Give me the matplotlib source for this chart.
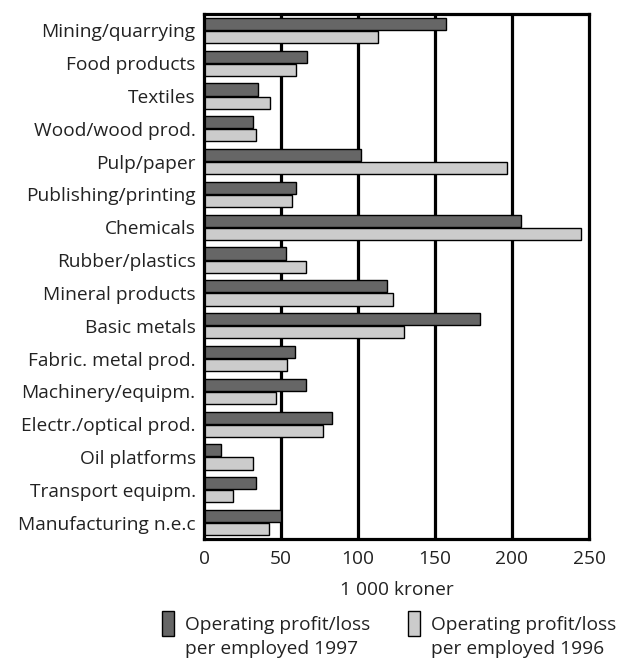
import numpy as np
import matplotlib
matplotlib.use("Agg")
import matplotlib.pyplot as plt
from matplotlib.patches import Rectangle

categories = ["Mining/quarrying", "Food products", "Textiles", "Wood/wood prod.",
              "Pulp/paper", "Publishing/printing", "Chemicals", "Rubber/plastics",
              "Mineral products", "Basic metals", "Fabric. metal prod.",
              "Machinery/equipm.", "Electr./optical prod.", "Oil platforms",
              "Transport equipm.", "Manufacturing n.e.c"]
profit_1997 = [157, 67, 35, 32, 102, 60, 206, 53, 119, 179, 59, 66, 83, 11, 34, 50]
profit_1996 = [113, 60, 43, 34, 197, 57, 245, 66, 123, 130, 54, 47, 77, 32, 19, 42]
xticks = [0, 50, 100, 150, 200, 250]
label_1997 = ["Operating profit/loss", "per employed 1997"]
label_1996 = ["Operating profit/loss", "per employed 1996"]

plt.rcParams["font.family"] = ["Open Sans", "DejaVu Sans"]
dark = "#666666"
light = "#cccccc"
txt = "#222222"
fs = 13.8

fig = plt.figure(figsize=(6.19, 6.59), dpi=100)
ax = fig.add_axes([204 / 619, 1 - 539 / 659, 385 / 619, 525 / 659])

y = np.arange(len(categories))
h = 0.37
ax.barh(y - h / 2 - 0.015, profit_1997, height=h, color=dark, edgecolor="black", linewidth=1, zorder=3)
ax.barh(y + h / 2 + 0.015, profit_1996, height=h, color=light, edgecolor="black", linewidth=1, zorder=3)

ax.set_ylim(len(categories) - 0.5, -0.5)
ax.set_xlim(0, 250)
ax.set_yticks(y)
ax.set_yticklabels(categories, fontsize=fs, color=txt)
ax.set_xticks(xticks)
ax.set_xticklabels([str(t) for t in xticks], fontsize=fs, color=txt)
ax.tick_params(axis="both", length=0)
ax.tick_params(axis="y", pad=6)
ax.tick_params(axis="x", pad=8)
ax.set_xlabel("1 000 kroner", fontsize=fs, color=txt, labelpad=9)

for t in xticks[1:-1]:
    ax.axvline(t, color="black", linewidth=2.3, zorder=1)
for s in ax.spines.values():
    s.set_linewidth(2.3)
    s.set_zorder(4)

# legend drawn by hand under the axes
for px, col, lab in [(162, dark, label_1997), (408, light, label_1996)]:
    fig.add_artist(Rectangle((px / 619, 1 - 636 / 659), 12 / 619, 25 / 659,
                             transform=fig.transFigure, facecolor=col,
                             edgecolor="black", linewidth=1))
    fig.text((px + 23) / 619, 1 - 630 / 659, lab[0], fontsize=fs, color=txt,
             ha="left", va="baseline")
    fig.text((px + 23) / 619, 1 - 654 / 659, lab[1], fontsize=fs, color=txt,
             ha="left", va="baseline")

fig.savefig("out.png", dpi=100)
